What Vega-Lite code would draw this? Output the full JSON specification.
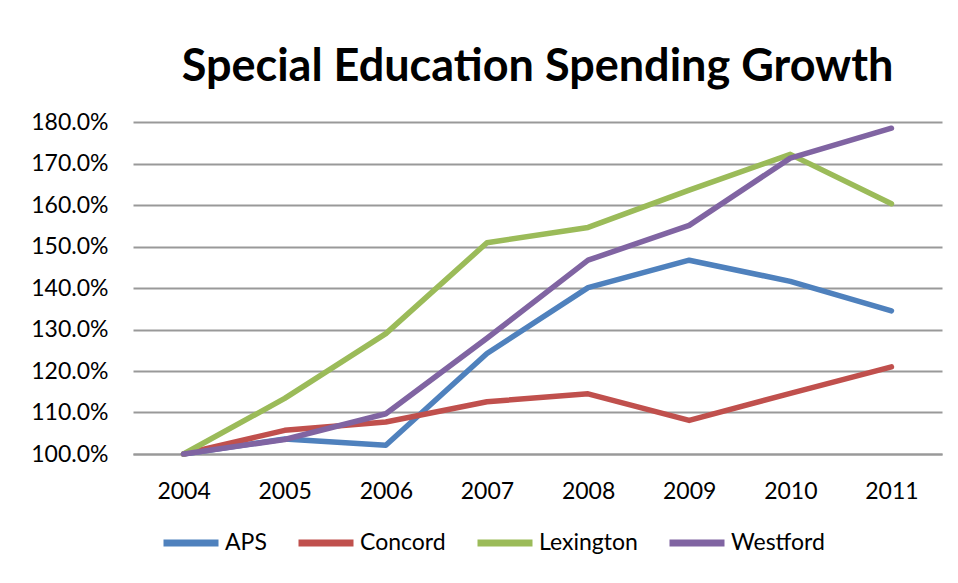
{
  "$schema": "https://vega.github.io/schema/vega-lite/v6.json",
  "autosize": {"type": "none"},
  "padding": {"left": 133, "top": 122, "right": 16, "bottom": 129},
  "width": 809,
  "height": 332,
  "background": "white",
  "title": {
    "text": "Special Education Spending Growth",
    "font": "Lato",
    "fontSize": 45,
    "fontWeight": "bold",
    "color": "black",
    "anchor": "middle",
    "baseline": "alphabetic",
    "offset": 37,
    "dy": 52
  },
  "data": {
    "values": [
      {"year": "2004", "district": "APS", "value": 1.0},
      {"year": "2005", "district": "APS", "value": 1.036},
      {"year": "2006", "district": "APS", "value": 1.021},
      {"year": "2007", "district": "APS", "value": 1.242},
      {"year": "2008", "district": "APS", "value": 1.401},
      {"year": "2009", "district": "APS", "value": 1.467},
      {"year": "2010", "district": "APS", "value": 1.416},
      {"year": "2011", "district": "APS", "value": 1.345},
      {"year": "2004", "district": "Concord", "value": 1.0},
      {"year": "2005", "district": "Concord", "value": 1.057},
      {"year": "2006", "district": "Concord", "value": 1.077},
      {"year": "2007", "district": "Concord", "value": 1.126},
      {"year": "2008", "district": "Concord", "value": 1.145},
      {"year": "2009", "district": "Concord", "value": 1.081},
      {"year": "2010", "district": "Concord", "value": 1.146},
      {"year": "2011", "district": "Concord", "value": 1.21},
      {"year": "2004", "district": "Lexington", "value": 1.0},
      {"year": "2005", "district": "Lexington", "value": 1.134},
      {"year": "2006", "district": "Lexington", "value": 1.29},
      {"year": "2007", "district": "Lexington", "value": 1.509},
      {"year": "2008", "district": "Lexington", "value": 1.546},
      {"year": "2009", "district": "Lexington", "value": 1.636},
      {"year": "2010", "district": "Lexington", "value": 1.722},
      {"year": "2011", "district": "Lexington", "value": 1.603},
      {"year": "2004", "district": "Westford", "value": 1.0},
      {"year": "2005", "district": "Westford", "value": 1.035},
      {"year": "2006", "district": "Westford", "value": 1.097},
      {"year": "2007", "district": "Westford", "value": 1.279},
      {"year": "2008", "district": "Westford", "value": 1.467},
      {"year": "2009", "district": "Westford", "value": 1.551},
      {"year": "2010", "district": "Westford", "value": 1.713},
      {"year": "2011", "district": "Westford", "value": 1.785}
    ]
  },
  "mark": {"type": "line", "strokeWidth": 5.5, "strokeCap": "round", "strokeJoin": "round"},
  "encoding": {
    "x": {
      "field": "year",
      "type": "ordinal",
      "scale": {"type": "point", "padding": 0.5},
      "axis": {
        "title": null,
        "labelAngle": 0,
        "ticks": false,
        "domain": true,
        "domainColor": "#999999",
        "domainWidth": 2,
        "labelFont": "Lato",
        "labelFontSize": 23,
        "labelColor": "black",
        "labelBaseline": "alphabetic",
        "labelPadding": 44,
        "grid": false
      }
    },
    "y": {
      "field": "value",
      "type": "quantitative",
      "scale": {"domain": [1, 1.8], "nice": false, "zero": false},
      "axis": {
        "title": null,
        "format": ".1%",
        "values": [1.0, 1.1, 1.2, 1.3, 1.4, 1.5, 1.6, 1.7, 1.8],
        "ticks": false,
        "domain": false,
        "grid": true,
        "gridColor": "#999999",
        "gridWidth": 2,
        "labelFont": "Lato",
        "labelFontSize": 23,
        "labelColor": "black",
        "labelPadding": 25
      }
    },
    "color": {
      "field": "district",
      "type": "nominal",
      "scale": {
        "domain": ["APS", "Concord", "Lexington", "Westford"],
        "range": ["#4F81BD", "#C0504D", "#9BBB59", "#8064A2"]
      },
      "legend": {
        "title": null,
        "orient": "none",
        "direction": "horizontal",
        "legendX": 27,
        "legendY": 390,
        "symbolType": "stroke",
        "symbolSize": 3025,
        "symbolStrokeWidth": 7,
        "labelFont": "Lato",
        "labelFontSize": 23,
        "labelColor": "black",
        "labelOffset": 3,
        "columnPadding": 17
      }
    }
  },
  "config": {"view": {"stroke": null}}
}
